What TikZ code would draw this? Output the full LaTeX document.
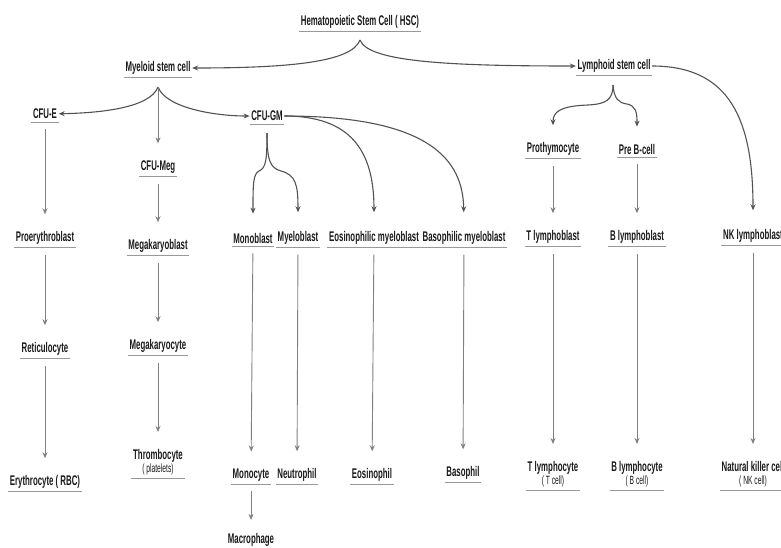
\documentclass[tikz,border=0pt]{standalone}
\usepackage{fontspec}
\usepackage{tikz}
\usetikzlibrary{arrows.meta}
\newfontfamily\cellfont{Liberation Sans}[FakeStretch=0.56]
\newcommand{\subline}[1]{{\mdseries\fontsize{12pt}{13pt}\selectfont #1}}

\begin{document}
\begin{tikzpicture}[
      x=1pt, y=-1pt,
      cell/.style={
        font={\cellfont\bfseries\fontsize{14pt}{15pt}\selectfont},
        text=black!90,
        inner xsep=1.5pt,
        inner ysep=3pt,
        align=center,
        append after command={(\tikzlastnode.south west) edge[uline] (\tikzlastnode.south east)}
      },
      uline/.style={draw=black!40, line width=0.9pt},
      curve/.style={draw=black!68, line width=1.1pt, -{Stealth[length=6pt,width=5pt]}},
      vline/.style={draw=black!50, line width=0.9pt, -{Stealth[length=6pt,width=5pt]},
        shorten <=7pt, shorten >=14pt}
    ]
    \useasboundingbox (0,0) rectangle (781,547);
    %% Stem cells
    \node[cell] (hsc) at (360,22) {Hematopoietic Stem Cell ( HSC)};
    \node[cell] (myeloid) at (158,68) {Myeloid stem cell};
    \node[cell] (lymphoid) at (614,66) {Lymphoid stem cell};
    %% Progenitors
    \node[cell] (cfue) at (45,114) {CFU-E};
    \node[cell] (cfugm) at (267,116) {CFU-GM};
    \node[cell] (cfumeg) at (158,167) {CFU-Meg};
    \node[cell] (prothy) at (553,149) {Prothymocyte};
    \node[cell] (preb) at (637,149) {Pre B-cell};
    %% Blasts
    \node[cell] (proery) at (45,238) {Proerythroblast};
    \node[cell] (megablast) at (158,246) {Megakaryoblast};
    \node[cell] (monoblast) at (253,238) {Monoblast};
    \node[cell] (myeloblast) at (298,238) {Myeloblast};
    \node[cell] (eosblast) at (374,238) {Eosinophilic myeloblast};
    \node[cell] (basoblast) at (464,238) {Basophilic myeloblast};
    \node[cell] (tblast) at (553,237) {T lymphoblast};
    \node[cell] (bblast) at (637,237) {B lymphoblast};
    \node[cell] (nkblast) at (753,236) {NK lymphoblast};
    %% Intermediate
    \node[cell] (retic) at (45,349) {Reticulocyte};
    \node[cell] (megacyte) at (158,346) {Megakaryocyte};
    %% Mature cells
    \node[cell] (ery) at (45,482) {Erythrocyte ( RBC)};
    \node[cell] (thrombo) at (158,462) {Thrombocyte\\[-2pt]\subline{( platelets)}};
    \node[cell] (mono) at (251,475) {Monocyte};
    \node[cell] (neut) at (297,475) {Neutrophil};
    \node[cell] (eos) at (372,475) {Eosinophil};
    \node[cell] (baso) at (463,473) {Basophil};
    \node[cell] (tcyte) at (553,474) {T lymphocyte\\[-2pt]\subline{( T cell)}};
    \node[cell] (bcyte) at (637,474) {B lymphocyte\\[-2pt]\subline{( B cell)}};
    \node[cell] (nk) at (753,474) {Natural killer cell\\[-2pt]\subline{( NK cell)}};
    \node[font={\cellfont\bfseries\fontsize{14pt}{15pt}\selectfont}, text=black!90] (macro) at (251,540) {Macrophage};

    %% Brace tips
    \coordinate (hsc-tip) at (360,40);
    \coordinate (my-tip) at (158,87);
    \coordinate (ly-tip) at (613,85);
    \coordinate (gm-tip) at (267,133);

    %% Braces
    \draw[curve] (hsc-tip) .. controls (352,62) and (290,68) .. (myeloid);
    \draw[curve] (hsc-tip) .. controls (368,62) and (450,66) .. (lymphoid);
    \draw[curve] (my-tip) .. controls (150,108) and (100,113) .. (cfue);
    \draw[curve] (my-tip) .. controls (166,108) and (215,116) .. (cfugm);
    \draw[vline, shorten <=0pt] (my-tip) -- (cfumeg);
    \draw[curve, shorten >=14pt] (ly-tip) .. controls (613,100) and (606,104) .. (588,105)
      .. controls (560,106) and (553,112) .. (prothy.north);
    \draw[curve, shorten >=14pt] (ly-tip) .. controls (614,99) and (619,103) .. (627,104)
      .. controls (636,106) and (637,112) .. (preb.north);
    \draw[curve, shorten >=16pt] (gm-tip) .. controls (267,160) and (266,168) .. (259,171)
      .. controls (253,174) and (253,185) .. (monoblast.north);
    \draw[curve, shorten >=16pt] (gm-tip) .. controls (267,160) and (270,168) .. (281,171)
      .. controls (296,175) and (298,185) .. (myeloblast.north);
    \draw[curve, shorten >=16pt] (cfugm) .. controls (350,116) and (374,150) .. (eosblast.north);
    \draw[curve, shorten >=16pt] (cfugm) .. controls (430,116) and (463,160) .. (basoblast.north);
    \draw[curve, shorten >=16pt] (lymphoid) .. controls (730,66) and (753,120) .. (nkblast.north);

    %% Straight lines
    \draw[vline] (cfue) -- (proery);
    \draw[vline] (proery) -- (retic);
    \draw[vline] (retic) -- (ery);
    \draw[vline] (cfumeg) -- (megablast);
    \draw[vline] (megablast) -- (megacyte);
    \draw[vline] (megacyte) -- (thrombo);
    \draw[vline] (monoblast) -- (mono);
    \draw[vline, shorten >=10pt] (mono) -- (macro);
    \draw[vline] (myeloblast) -- (neut);
    \draw[vline] (eosblast) -- (eos);
    \draw[vline] (basoblast) -- (baso);
    \draw[vline] (prothy) -- (tblast);
    \draw[vline] (tblast) -- (tcyte);
    \draw[vline] (preb) -- (bblast);
    \draw[vline] (bblast) -- (bcyte);
    \draw[vline] (nkblast) -- (nk);
  \end{tikzpicture}
\end{document}
